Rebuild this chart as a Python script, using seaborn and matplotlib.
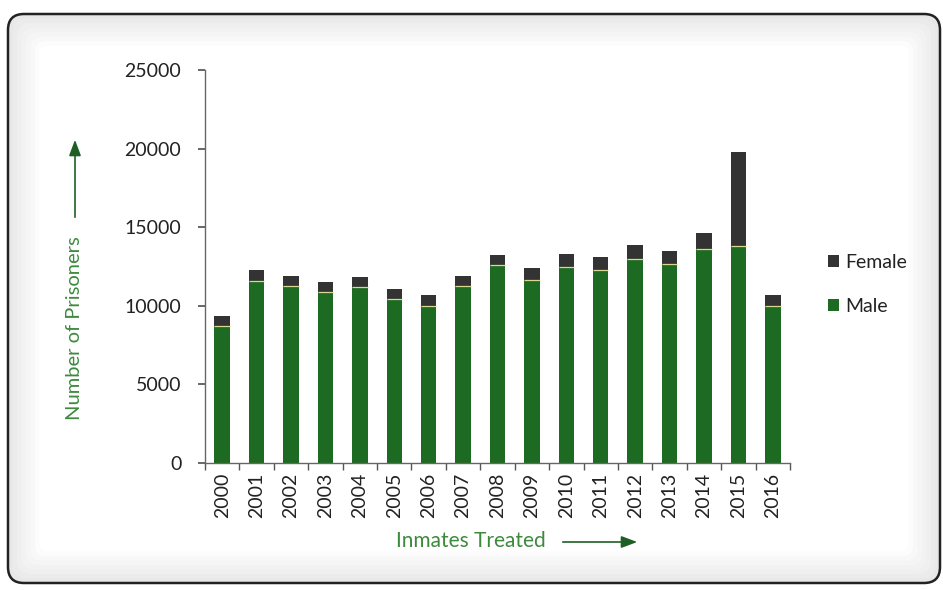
import matplotlib
matplotlib.use("Agg")
import matplotlib.pyplot as plt
from matplotlib.patches import FancyBboxPatch
import seaborn as sns
import pandas as pd
import numpy as np

years = ["2000", "2001", "2002", "2003", "2004", "2005", "2006", "2007", "2008",
         "2009", "2010", "2011", "2012", "2013", "2014", "2015", "2016"]
male = [8700, 11550, 11230, 10870, 11190, 10430, 10000, 11230, 12580,
        11660, 12460, 12250, 12990, 12660, 13610, 13780, 10000]
female = [650, 750, 640, 640, 640, 650, 680, 680, 670,
          740, 850, 850, 900, 840, 1020, 6010, 700]
ticks = [0, 5000, 10000, 15000, 20000, 25000]

df = pd.DataFrame({"year": years, "Male": male, "Female": female})
df["Total"] = df["Male"] + df["Female"]

sns.set_theme(style="white")
plt.rcParams["font.family"] = ["Lato", "DejaVu Sans"]

W, H = 943, 590
fig = plt.figure(figsize=(W / 100, H / 100), dpi=100)
fig.patch.set_facecolor("white")

# background frame
bg = fig.add_axes([0, 0, 1, 1], zorder=0)
bg.set_xlim(0, W)
bg.set_ylim(0, H)
bg.axis("off")
x0, y0, x1, y1 = 8, 7, 940, 576
for i, shade in enumerate(np.linspace(0.91, 1.0, 8)):
    pad = i * 4.5
    bg.add_patch(FancyBboxPatch((x0 + pad, y0 + pad), (x1 - x0) - 2 * pad, (y1 - y0) - 2 * pad,
                                boxstyle="round,pad=0,rounding_size=%f" % max(16 - i, 4),
                                facecolor=(shade, shade, shade), edgecolor="none"))
bg.add_patch(FancyBboxPatch((x0, y0), x1 - x0, y1 - y0,
                            boxstyle="round,pad=0,rounding_size=16",
                            facecolor="none", edgecolor="#222222", linewidth=1.8))

ax = fig.add_axes([205 / W, (H - 463) / H, 585 / W, 393 / H], zorder=2)
ax.patch.set_alpha(0)

male_c = "#1d6a22"
female_c = "#333333"
sns.barplot(data=df, x="year", y="Total", color=female_c, width=0.45,
            saturation=1, ax=ax, label="Female", linewidth=0)
n_before = len(ax.patches)
sns.barplot(data=df, x="year", y="Male", color=male_c, width=0.45,
            saturation=1, ax=ax, label="Male", linewidth=0)
# thin light divider between the two segments
for p in ax.patches[n_before:]:
    ax.plot([p.get_x(), p.get_x() + p.get_width()], [p.get_height()] * 2,
            color="#d8d890", lw=0.9, solid_capstyle="butt", zorder=5)

ax.set_ylim(0, 25000)
ax.set_xlim(-0.5, len(years) - 0.5)
ax.set_yticks(ticks)
ax.set_yticklabels([str(t) for t in ticks], fontsize=14, color="#222222")
ax.set_xticks(range(len(years)))
ax.set_xticklabels(years, rotation=90, fontsize=14, color="#222222")
ax.tick_params(axis="x", which="major", length=0, pad=7)
ax.set_xticks(np.arange(-0.5, len(years)), minor=True)
ax.tick_params(axis="x", which="minor", length=5, direction="out", color="#555555", bottom=True)
ax.tick_params(axis="y", which="major", length=5, direction="out", color="#555555", left=True, pad=12)
for s in ["top", "right"]:
    ax.spines[s].set_visible(False)
for s in ["left", "bottom"]:
    ax.spines[s].set_color("#666666")
    ax.spines[s].set_linewidth(1.0)
ax.set_xlabel("")
ax.set_ylabel("")

handles, labels = ax.get_legend_handles_labels()
ax.legend(handles, labels, loc="center left", bbox_to_anchor=(1.035, 0.455),
          frameon=False, fontsize=14, handlelength=0.55, handleheight=0.55,
          handletextpad=0.35, labelspacing=1.4, labelcolor="#222222")

# axis titles with arrows
tc = "#3d8a3d"
ac = "#1f5f24"
fig.text(75 / W, 1 - 328 / H, "Number of Prisoners", rotation=90, color=tc,
         fontsize=14.5, ha="center", va="center")
fig.text(471 / W, 1 - 541 / H, "Inmates Treated", color=tc,
         fontsize=15, ha="center", va="center")
bg.annotate("", xy=(75, H - 137), xytext=(75, H - 220),
            arrowprops=dict(arrowstyle="-|>,head_length=0.8,head_width=0.3", color=ac, lw=1.2))
bg.annotate("", xy=(640, H - 542), xytext=(560, H - 542),
            arrowprops=dict(arrowstyle="-|>,head_length=0.8,head_width=0.3", color=ac, lw=1.2))

fig.savefig("out.png", dpi=100)
